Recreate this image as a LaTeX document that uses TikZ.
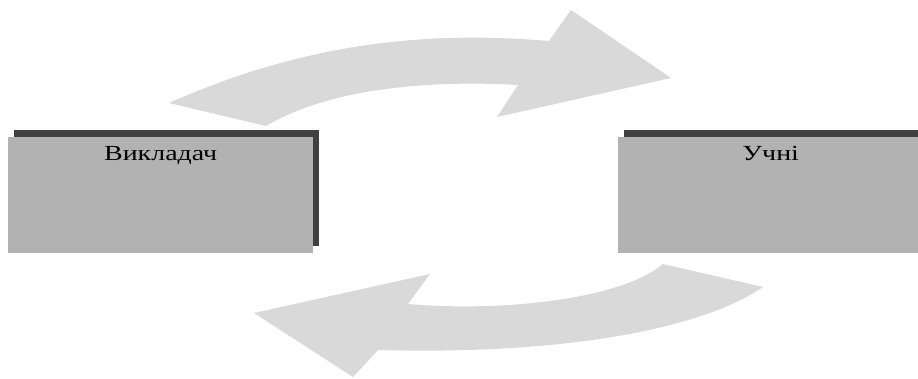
\documentclass[tikz,border=0pt]{standalone}
\usepackage{fontspec}
\setmainfont{Liberation Serif}
\usetikzlibrary{shadows}
\definecolor{arrowgray}{HTML}{D9D9D9}
\definecolor{boxgray}{HTML}{B2B2B2}
\definecolor{shadowgray}{HTML}{404040}
\begin{document}
\begin{tikzpicture}[x=1pt,y=1pt,
  rolebox/.style={rectangle, fill=boxgray, draw=none, minimum width=305pt, minimum height=116pt,
    inner sep=0pt, anchor=north west,
    general shadow={fill=shadowgray, shadow xshift=6pt, shadow yshift=7pt}},
  roletext/.style={font=\fontsize{21.5}{24}\selectfont, text=black, inner sep=0pt, anchor=base},
  bigarrow/.style={fill=arrowgray, draw=none}]
\clip (0,0) rectangle (918,378);
\fill[white] (0,0) rectangle (918,378);
% top arrow (left to right)
\fill[bigarrow] (169,275) .. controls (300,333) and (420,348) .. (549,337)
  -- (571,368) -- (671,300) -- (497,261) -- (518,293)
  .. controls (430,298) and (330,290) .. (266,252) -- cycle;
% bottom arrow (right to left)
\fill[bigarrow] (663,114) -- (763,91)
  .. controls (700,48) and (560,23) .. (378,28)
  -- (353,1) -- (254,65) -- (430,104) -- (408,74)
  .. controls (500,66) and (620,78) .. cycle;
% boxes
\node[rolebox] (teacher) at (8,241) {};
\node[rolebox] (pupils) at (618,241) {};
\node[roletext] (teachertext) at ([yshift=-24pt]teacher.north) {\scalebox{1.3}[1]{Викладач}};
\node[roletext] (pupilstext) at ([yshift=-24pt]pupils.north) {\scalebox{1.3}[1]{Учні}};
\end{tikzpicture}
\end{document}
